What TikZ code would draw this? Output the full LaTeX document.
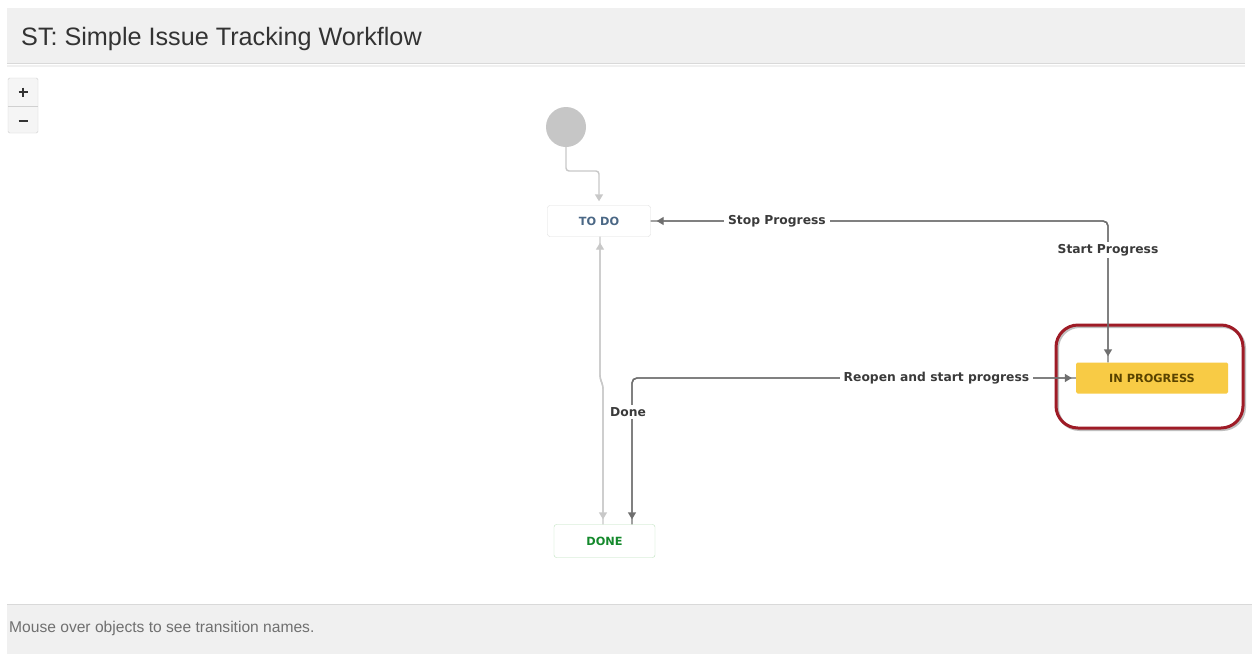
\documentclass[tikz,border=0pt]{standalone}
\usepackage{fontspec}
\setmainfont{Liberation Sans}
\newfontfamily\lblfont{DejaVu Sans}
\usetikzlibrary{arrows.meta}

\definecolor{bandgray}{HTML}{F0F0F0}
\definecolor{bandline}{HTML}{D9D9D9}
\definecolor{titletext}{HTML}{333333}
\definecolor{foottext}{HTML}{707070}
\definecolor{btnfill}{HTML}{F5F5F5}
\definecolor{btnline}{HTML}{D0D0D0}
\definecolor{startgray}{HTML}{C6C6C6}
\definecolor{boxline}{HTML}{DDDDDD}
\definecolor{todotext}{HTML}{4A6785}
\definecolor{donetext}{HTML}{14892C}
\definecolor{progfill}{HTML}{F8CB45}
\definecolor{progtext}{HTML}{594300}
\definecolor{connline}{HTML}{6F6F6F}
\definecolor{lightline}{HTML}{C8C8C8}
\definecolor{lbltext}{HTML}{3A3A3A}
\definecolor{hlred}{HTML}{9E1B26}

\begin{document}
\begin{tikzpicture}[x=1pt,y=-1pt,
  statebox/.style={rectangle, rounded corners=2.5pt, inner sep=0pt,
    font=\lblfont\bfseries\fontsize{11.3}{13}\selectfont},
  tip/.style={-{Triangle[width=8pt,length=7pt]}},
  conn/.style={draw=connline, line width=1.4pt, rounded corners=5pt, tip},
  lightconn/.style={draw=lightline, line width=1.4pt, rounded corners=3pt, tip},
  lbl/.style={fill=white, text=lbltext, inner xsep=4pt, inner ysep=2pt,
    font=\lblfont\bfseries\fontsize{12.3}{14}\selectfont},
]
\useasboundingbox (0,0) rectangle (1252,654);
\fill[white] (0,0) rectangle (1252,654);

% title bar
\fill[bandgray] (7,8) rectangle (1245,63);
\draw[bandline, line width=1.2pt] (7,63.5) -- (1245,63.5);
\draw[bandline!40, line width=2pt] (7,65.5) -- (1245,65.5);
\node[anchor=base west, inner sep=0pt, text=titletext,
  font=\fontsize{25.2}{29}\selectfont] (title) at (21,45)
  {ST: Simple Issue Tracking Workflow};

% zoom buttons
\draw[btnline, fill=btnfill, rounded corners=1.5pt] (8,78) rectangle (38,133);
\draw[btnline] (8,106) -- (38,106);
\draw[titletext, line width=2.4pt] (18.5,92) -- (27.5,92) (23,87.5) -- (23,96.5);
\draw[titletext, line width=2.4pt] (18.5,121) -- (27.5,121);

% states
\node[circle, fill=startgray, minimum size=40pt, inner sep=0pt] (start) at (566,127) {};
\node[statebox, draw=boxline, fill=white, text=todotext,
  minimum width=103pt, minimum height=31pt] (todo) at (599,221) {TO DO};
\node[statebox, fill=progfill, text=progtext, rounded corners=1.5pt,
  minimum width=152pt, minimum height=31pt] (inprog) at (1152,378) {IN PROGRESS};
\node[statebox, draw=boxline!85!green, fill=white, text=donetext,
  minimum width=101pt, minimum height=33pt] (done) at (604.5,541) {DONE};

% highlight ring around the active state
\draw[black!25, line width=3pt, rounded corners=22pt] (1057.5,326.5) rectangle (1244.5,429.5);
\draw[hlred, line width=3pt, rounded corners=22pt] (1056,325) rectangle (1243,428);

% initial transition
\draw[lightconn, shorten >=4pt] (start.south) -- (566,171) -- (599,171) -- (todo.north);

% transitions between TO DO and DONE
\draw[lightconn, shorten >=5pt] ([xshift=1pt]todo.south) -- (600,378) -- (603,386)
  -- ([xshift=-1.5pt]done.north);
\draw[lightconn, shorten >=6pt] ([xshift=-1.5pt]done.north) -- (603,386) -- (600,378)
  -- ([xshift=1pt]todo.south);

% transitions between TO DO and IN PROGRESS
\draw[conn, shorten >=6pt] (todo.east) -| ([xshift=-44pt]inprog.north);
\draw[conn, shorten >=6pt] ([xshift=-44pt]inprog.north) |- (todo.east);

% transitions between IN PROGRESS and DONE
\draw[conn, shorten >=5pt] (inprog.west) -| ([xshift=27.5pt]done.north);
\draw[conn, shorten >=4pt] ([xshift=27.5pt]done.north) |- (inprog.west);

% transition names
\path (todo.east) -| ([xshift=-44pt]inprog.north)
  node[lbl, pos=0.602] (lstart) {Start Progress};
\path ([xshift=-44pt]inprog.north) |- (todo.east)
  node[lbl, pos=0.862] (lstop) {Stop Progress};
\path (inprog.west) -| ([xshift=27.5pt]done.north)
  node[lbl, pos=0.616, xshift=-4pt] (ldone) {Done};
\path ([xshift=27.5pt]done.north) |- (inprog.west)
  node[lbl, pos=0.843] (lreopen) {Reopen and start progress};

% status bar
\fill[bandgray] (7,605) rectangle (1252,654);
\draw[bandline, line width=1pt] (7,604.5) -- (1252,604.5);
\node[anchor=base west, inner sep=0pt, text=foottext,
  font=\fontsize{15.6}{18}\selectfont] (hint) at (9,632)
  {Mouse over objects to see transition names.};
\end{tikzpicture}
\end{document}
